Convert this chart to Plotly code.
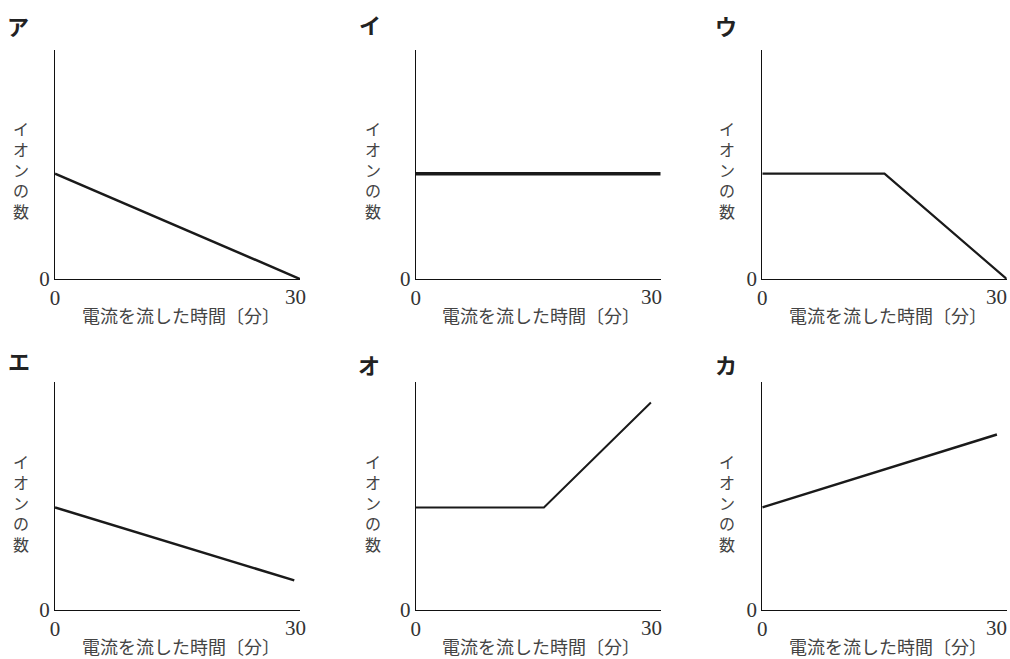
# -*- coding: utf-8 -*-
#
# イオンの数と電流を流した時間のグラフ（ア〜カ）を描く。

import plotly.graph_objects as go

W, H = 1010, 659

labels = ['ア', 'イ', 'ウ', 'エ', 'オ', 'カ']

# 各グラフの点（横軸：分、縦軸：目盛りの上端を1としたイオンの数）
x_a = [0, 30]
y_a = [0.46, 0]
x_i = [0, 30]
y_i = [0.46, 0.46]
x_u = [0, 15, 30]
y_u = [0.46, 0.46, 0]
x_e = [0, 29.3]
y_e = [0.45, 0.13]
x_o = [0, 15.7, 28.8]
y_o = [0.45, 0.45, 0.91]
x_ka = [0, 28.8]
y_ka = [0.45, 0.77]

xs = [x_a, x_i, x_u, x_e, x_o, x_ka]
ys = [y_a, y_i, y_u, y_e, y_o, y_ka]
widths = [2.5, 3.5, 2.2, 2.5, 2, 2.5]

x_start, x_end = 0, 30
x_end_text = '30'
y_ticks = [0]
y_ticktext = ['0']

x_title = '電流を流した時間〔分〕'
y_title = 'イオンの数'

# 軸の位置（ピクセル）
col_px = [(55, 300), (415.7, 660.7), (762.3, 1006.7)]
row_px = [(50, 279), (382, 610)]
letter_px = [(18, 25), (370, 24), (726, 25), (19, 360), (369, 364), (726, 364)]
ytitle_x = [21, 373, 727]
end_shift = [-5, -9, -10]

fig = go.Figure()
layout = {}
annotations = []

def px_x(v):
    return v / W

def px_y(v):
    return 1 - v / H

tick_font = {'family': 'Liberation Serif', 'size': 21, 'color': '#333'}

for i in range(6):
    r, c = divmod(i, 3)
    n = '' if i == 0 else str(i + 1)
    fig.add_trace(go.Scatter(
        x=xs[i], y=ys[i], mode='lines',
        line={'color': '#1a1a1a', 'width': widths[i]},
        xaxis='x' + n, yaxis='y' + n, hoverinfo='skip', cliponaxis=False
    ))
    x0, x1 = col_px[c]
    top, base = row_px[r]
    layout['xaxis' + n] = {
        'domain': [px_x(x0), px_x(x1)],
        'range': [x_start, x_end],
        'anchor': 'y' + n,
        'automargin': False,
        'showline': True, 'linecolor': '#111', 'linewidth': 1.2,
        'showgrid': False, 'zeroline': False,
        'ticks': '', 'tickvals': [x_start], 'ticktext': [str(x_start)],
        'tickfont': tick_font,
        'fixedrange': True,
    }
    layout['yaxis' + n] = {
        'domain': [px_y(base), px_y(top)],
        'range': [0, 1],
        'anchor': 'x' + n,
        'automargin': False,
        'showline': True, 'linecolor': '#111', 'linewidth': 1.2,
        'showgrid': False, 'zeroline': False,
        'ticks': '', 'tickvals': y_ticks, 'ticktext': y_ticktext,
        'tickfont': tick_font,
        'fixedrange': True,
    }
    # 右端の目盛り「30」
    annotations.append(dict(
        text=x_end_text, xref='x' + n, yref='y' + n,
        x=x_end, y=0, xshift=end_shift[c], yshift=-18,
        showarrow=False, xanchor='center', yanchor='middle',
        font=tick_font
    ))
    # x軸タイトル
    annotations.append(dict(
        text=x_title, xref='paper', yref='paper',
        x=px_x((x0 + x1) / 2 + 3), y=px_y(base + 36),
        showarrow=False, xanchor='center', yanchor='middle',
        font={'family': 'Noto Sans CJK JP', 'size': 18, 'color': '#444'}
    ))
    # y軸タイトル（縦書き）
    annotations.append(dict(
        text='<br>'.join(y_title), xref='paper', yref='paper',
        x=px_x(ytitle_x[c]), y=px_y(top + 120),
        showarrow=False, xanchor='center', yanchor='middle',
        font={'family': 'Noto Sans CJK JP', 'size': 16, 'color': '#444'}
    ))
    # 記号
    lx, ly = letter_px[i]
    annotations.append(dict(
        text='<b>' + labels[i] + '</b>', xref='paper', yref='paper',
        x=px_x(lx), y=px_y(ly),
        showarrow=False, xanchor='center', yanchor='middle',
        font={'family': 'Noto Sans CJK JP', 'size': 22, 'color': '#222'}
    ))

fig.update_layout(
    width=W, height=H,
    margin={'l': 0, 'r': 0, 't': 0, 'b': 0},
    paper_bgcolor='white', plot_bgcolor='white',
    showlegend=False,
    annotations=annotations,
    **layout
)

# ページの余白をなくして図を左上に合わせる
fig.write_html('out.html', config={'displayModeBar': False},
               post_script="document.body.style.margin='0';")
